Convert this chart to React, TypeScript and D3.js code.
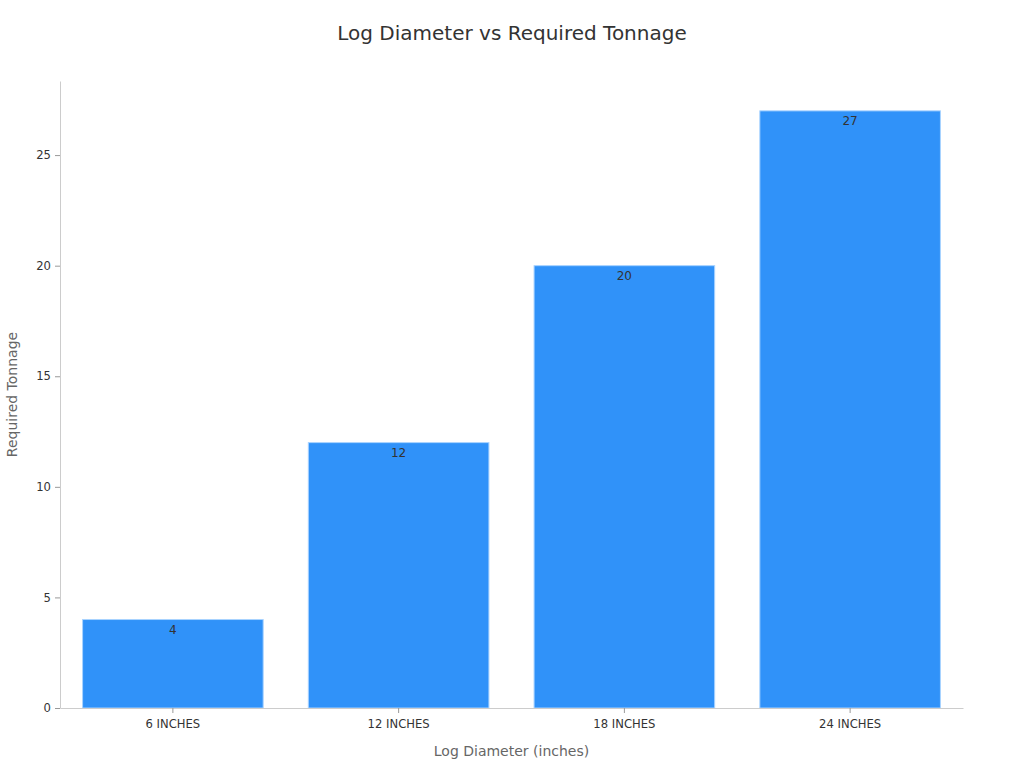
import { useEffect, useRef } from 'react';
import * as d3 from 'd3';

// Values
const categories = ['6 INCHES', '12 INCHES', '18 INCHES', '24 INCHES'];
const tonnage = [4, 12, 20, 27];
const yTicks = [0, 5, 10, 15, 20, 25];

export default function App() {
  const width = 1024;
  const height = 768;
  const marginTop = 81;
  const marginRight = 61;
  const marginBottom = 60;
  const marginLeft = 60;
  const font = '"DejaVu Sans", "Noto Sans", sans-serif';

  const x = d3.scaleBand()
    .domain(categories)
    .range([marginLeft, width - marginRight])
    .paddingInner(0.2)
    .paddingOuter(0.1);

  const y = d3.scaleLinear()
    .domain([0, (d3.max(tonnage) ?? 0) * 1.05])
    .range([height - marginBottom, marginTop]);

  const gx = useRef<SVGGElement>(null);
  const gy = useRef<SVGGElement>(null);

  useEffect(() => {
    if (gx.current) {
      const g = d3.select(gx.current);
      g.call(d3.axisBottom(x).tickSize(5).tickPadding(7).tickSizeOuter(0));
      g.select('.domain').attr('stroke', '#ccc');
      g.selectAll('.tick line').attr('stroke', '#999');
      g.selectAll('.tick text').attr('fill', '#333').attr('font-size', 11.6).attr('font-family', font);
    }
    if (gy.current) {
      const g = d3.select(gy.current);
      g.call(d3.axisLeft(y).tickValues(yTicks).tickSize(5).tickPadding(4).tickSizeOuter(0));
      g.select('.domain').attr('stroke', '#ccc');
      g.selectAll('.tick line').attr('stroke', '#999');
      g.selectAll('.tick text').attr('fill', '#333').attr('font-size', 11.6).attr('font-family', font);
    }
  }, [x, y]);

  return (
    <svg width={width} height={height} style={{ position: 'absolute', left: 0, top: 0 }}>
      <rect width={width} height={height} fill="white" />
      <text x={width / 2} y={40} textAnchor="middle" fontSize={20} fill="#333" fontFamily={font}>
        Log Diameter vs Required Tonnage
      </text>
      {categories.map((c, i) => (
        <g key={c}>
          <rect
            x={x(c)}
            y={y(tonnage[i])}
            width={x.bandwidth()}
            height={y(0) - y(tonnage[i])}
            fill="#3092f9"
            stroke="#a9d3ff"
            strokeWidth={1}
          />
          <text
            x={(x(c) ?? 0) + x.bandwidth() / 2}
            y={y(tonnage[i]) + 14}
            textAnchor="middle"
            fontSize={12}
            fill="#333"
            fontFamily={font}
          >
            {tonnage[i]}
          </text>
        </g>
      ))}
      <g ref={gx} transform={`translate(0,${height - marginBottom})`} />
      <g ref={gy} transform={`translate(${marginLeft},0)`} />
      <text x={(marginLeft + width - marginRight) / 2} y={756} textAnchor="middle" fontSize={14} fill="#666" fontFamily={font}>
        Log Diameter (inches)
      </text>
      <text
        transform={`translate(17,${(marginTop + height - marginBottom) / 2}) rotate(-90)`}
        textAnchor="middle"
        fontSize={14}
        fill="#666"
        fontFamily={font}
      >
        Required Tonnage
      </text>
    </svg>
  );
}
